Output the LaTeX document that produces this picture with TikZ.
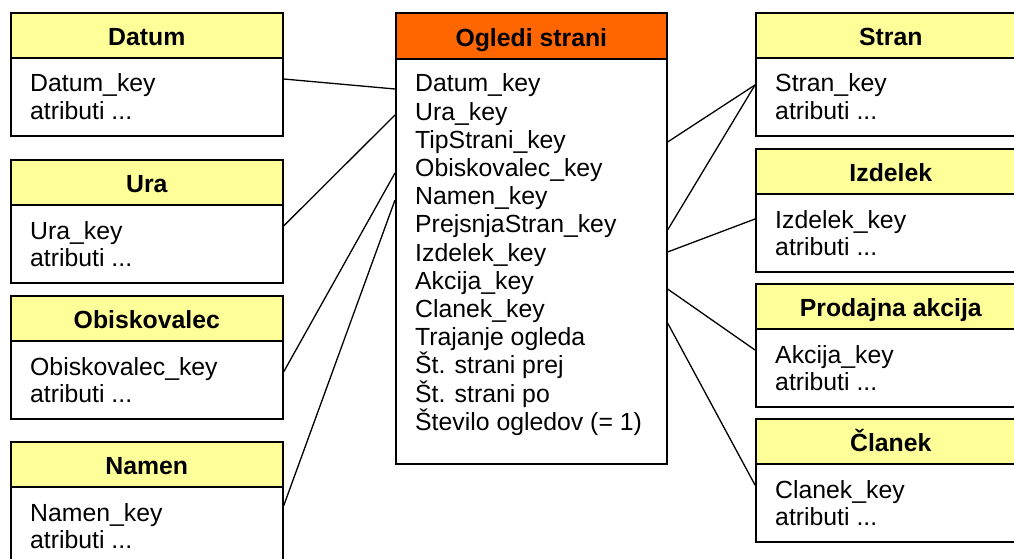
\documentclass[tikz,border=0pt]{standalone}
\usepackage{fontspec}
\setmainfont{Liberation Sans}
\definecolor{hdryellow}{HTML}{FFFF99}
\definecolor{factorange}{HTML}{FF6600}
% a column of lines with fixed baseline distance; baseline of the block is its first line
\newcommand\keylist[1]{\vtop{\hsize=400pt\parindent=0pt\lineskiplimit=-\maxdimen
  \let\\\par #1}}
\tikzset{
  hdr/.style={draw=black, line width=1.6pt, fill=hdryellow, anchor=north west,
    minimum width=#1, minimum height=45pt, inner sep=0pt,
    text height=21pt, text depth=0pt,
    font=\bfseries\fontsize{24.8}{28}\selectfont},
  hdr/.default=272pt,
  tbody/.style={draw=black, line width=1.6pt, fill=white, anchor=north west,
    minimum width=#1, minimum height=78pt, inner sep=0pt},
  tbody/.default=272pt,
  attr/.style={anchor=base west, inner sep=0pt, font=\fontsize{24.8}{27.4}\selectfont},
  factattr/.style={anchor=base west, inner sep=0pt, font=\fontsize{24.8}{28.2}\selectfont},
  link/.style={line width=1.3pt, draw=black}
}
\begin{document}
\begin{tikzpicture}[x=1pt, y=-1pt]
  \clip (0,0) rectangle (1014,559);
  \fill[white] (0,0) rectangle (1014,559);

  % dimension tables on the left
  \node[hdr] (datumH) at (10,12) {Datum};
  \node[tbody] (datumB) at (10,57) {};
  \node[attr] (datumT) at (30,92) {\keylist{Datum\_key\\atributi ...}};

  \node[hdr] (uraH) at (10,159) {Ura};
  \node[tbody] (uraB) at (10,204) {};
  \node[attr] (uraT) at (30,239) {\keylist{Ura\_key\\atributi ...}};

  \node[hdr] (obiskH) at (10,295) {Obiskovalec};
  \node[tbody] (obiskB) at (10,340) {};
  \node[attr] (obiskT) at (30,375) {\keylist{Obiskovalec\_key\\atributi ...}};

  \node[hdr] (namenH) at (10,441) {Namen};
  \node[tbody] (namenB) at (10,486) {};
  \node[attr] (namenT) at (30,521) {\keylist{Namen\_key\\atributi ...}};

  % fact table in the middle
  \node[hdr=271pt, fill=factorange, minimum height=46pt] (factH) at (395,12) {Ogledi strani};
  \node[tbody=271pt, minimum height=405pt] (factB) at (395,58) {};
  \node[factattr] (factT) at (415,92) {\keylist{Datum\_key\\Ura\_key\\TipStrani\_key\\
    Obiskovalec\_key\\Namen\_key\\PrejsnjaStran\_key\\Izdelek\_key\\Akcija\_key\\
    Clanek\_key\\Trajanje ogleda\\Št. strani prej\\Št. strani po\\Število ogledov (= 1)}};

  % dimension tables on the right
  \node[hdr=270pt] (stranH) at (755,12) {Stran};
  \node[tbody=270pt] (stranB) at (755,57) {};
  \node[attr] (stranT) at (775,92) {\keylist{Stran\_key\\atributi ...}};

  \node[hdr=270pt] (izdH) at (755,148) {Izdelek};
  \node[tbody=270pt] (izdB) at (755,193) {};
  \node[attr] (izdT) at (775,228) {\keylist{Izdelek\_key\\atributi ...}};

  \node[hdr=270pt] (akcH) at (755,283) {Prodajna akcija};
  \node[tbody=270pt] (akcB) at (755,328) {};
  \node[attr] (akcT) at (775,363) {\keylist{Akcija\_key\\atributi ...}};

  \node[hdr=270pt] (clanH) at (755,418) {Članek};
  \node[tbody=270pt] (clanB) at (755,463) {};
  \node[attr] (clanT) at (775,498) {\keylist{Clanek\_key\\atributi ...}};

  % key links from the fact table to the dimensions
  \draw[link] ([yshift=-22pt]datumB.north east) -- ([yshift=-31pt]factB.north west);
  \draw[link] ([yshift=-22pt]uraB.north east)   -- ([yshift=-57pt]factB.north west);
  \draw[link] ([yshift=-32pt]obiskB.north east) -- ([yshift=-115pt]factB.north west);
  \draw[link] ([yshift=-20pt]namenB.north east) -- ([yshift=-142pt]factB.north west);

  \draw[link] ([yshift=-84pt]factB.north east)  -- ([yshift=-28pt]stranB.north west);
  \draw[link] ([yshift=-172pt]factB.north east) -- ([yshift=-28pt]stranB.north west);
  \draw[link] ([yshift=-194pt]factB.north east) -- ([yshift=-26pt]izdB.north west);
  \draw[link] ([yshift=-231pt]factB.north east) -- ([yshift=-22pt]akcB.north west);
  \draw[link] ([yshift=-265pt]factB.north east) -- ([yshift=-22pt]clanB.north west);
\end{tikzpicture}
\end{document}
